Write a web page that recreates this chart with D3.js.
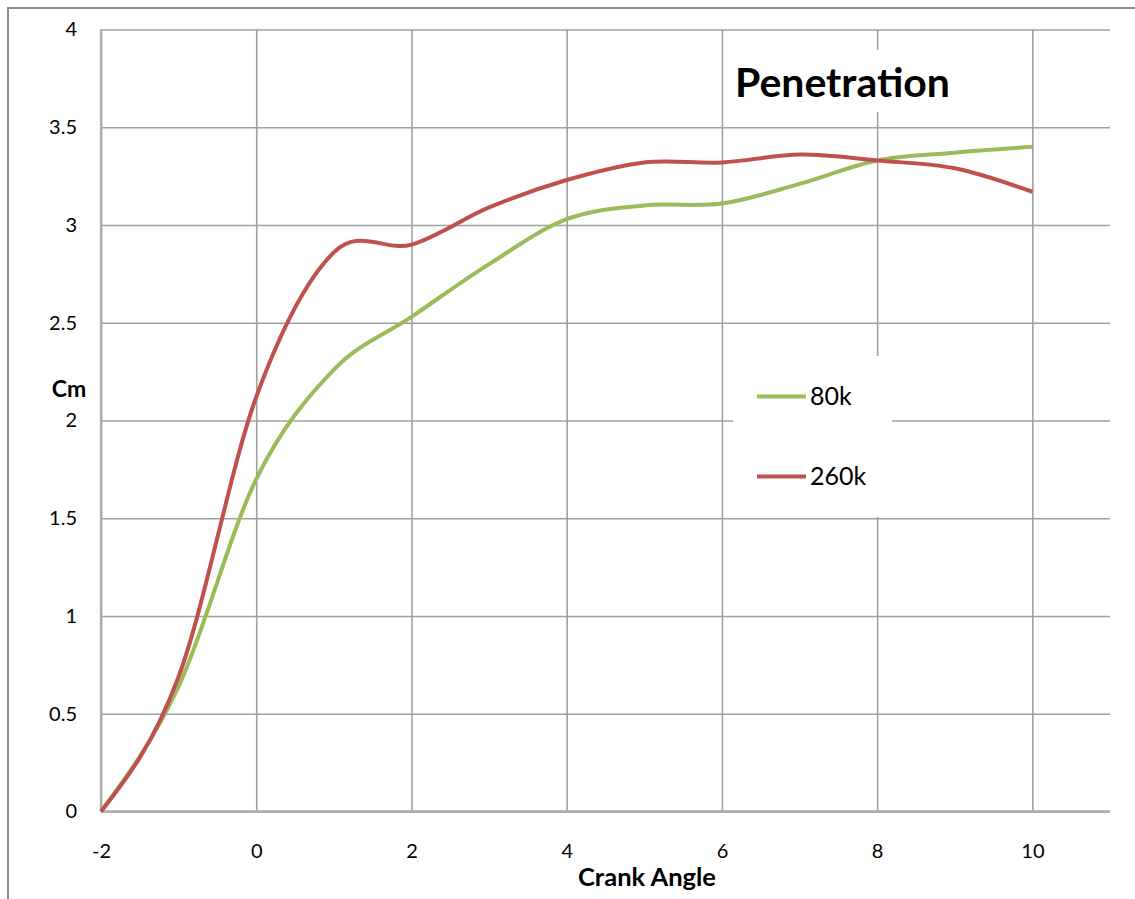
<!DOCTYPE html>
<html>
<head>
<meta charset="utf-8">
<script src="https://cdn.jsdelivr.net/npm/d3@7"></script>
<style>
  html, body { margin: 0; padding: 0; background: #ffffff; }
  svg { display: block; }
  text { font-family: Lato, "Open Sans", sans-serif; fill: #000; }
</style>
</head>
<body>
<svg id="chart" width="1135" height="899"></svg>
<script>
// Crank angle positions (degrees)
const crankAngle = [-2, -1, 0, 1, 2, 3, 4, 5, 6, 7, 8, 9, 10];
// Spray penetration (cm) for each injection pressure
const pen80k  = [0, 0.64, 1.70, 2.26, 2.53, 2.80, 3.03, 3.10, 3.11, 3.21, 3.33, 3.37, 3.40];
const pen260k = [0, 0.69, 2.12, 2.86, 2.90, 3.09, 3.23, 3.32, 3.32, 3.36, 3.33, 3.29, 3.17];
const seriesNames = ["80k", "260k"];
const seriesColors = ["#9BBB59", "#C0504D"];
const xTicks = [-2, 0, 2, 4, 6, 8, 10];
const yTicks = [0, 0.5, 1, 1.5, 2, 2.5, 3, 3.5, 4];

const svg = d3.select("#chart");
const W = 1135, H = 899;
const plot = { left: 101, right: 1110, top: 29.5, bottom: 811.5 };

const x = d3.scaleLinear().domain([-2, 11]).range([plot.left, plot.right]);
const y = d3.scaleLinear().domain([0, 4]).range([plot.bottom, plot.top]);

// Smooth spline curve: central-difference tangents inside,
// natural end tangents at both ends, drawn as cubic Béziers.
function SmoothSpline(context) { this._context = context; }
SmoothSpline.prototype = {
  areaStart() {}, areaEnd() {},
  lineStart() { this._pts = []; },
  point(px, py) { this._pts.push([+px, +py]); },
  lineEnd() {
    const p = this._pts, n = p.length, c = this._context;
    if (!n) return;
    c.moveTo(p[0][0], p[0][1]);
    if (n === 1) return;
    const t = new Array(n);
    for (let i = 1; i < n - 1; i++) {
      t[i] = [(p[i + 1][0] - p[i - 1][0]) / 2, (p[i + 1][1] - p[i - 1][1]) / 2];
    }
    if (n === 2) {
      t[0] = [p[1][0] - p[0][0], p[1][1] - p[0][1]];
      t[1] = t[0];
    } else {
      t[0] = [(3 * (p[1][0] - p[0][0]) - t[1][0]) / 2, (3 * (p[1][1] - p[0][1]) - t[1][1]) / 2];
      const k = n - 1;
      t[k] = [(3 * (p[k][0] - p[k - 1][0]) - t[k - 1][0]) / 2, (3 * (p[k][1] - p[k - 1][1]) - t[k - 1][1]) / 2];
    }
    for (let i = 0; i < n - 1; i++) {
      c.bezierCurveTo(
        p[i][0] + t[i][0] / 3, p[i][1] + t[i][1] / 3,
        p[i + 1][0] - t[i + 1][0] / 3, p[i + 1][1] - t[i + 1][1] / 3,
        p[i + 1][0], p[i + 1][1]);
    }
  }
};
const curveSmooth = context => new SmoothSpline(context);

// background and outer frame
svg.append("rect").attr("width", W).attr("height", H).attr("fill", "#fff");
svg.append("rect")
  .attr("x", 8).attr("y", 8).attr("width", W + 20).attr("height", H + 20)
  .attr("fill", "none").attr("stroke", "#8c8c8c").attr("stroke-width", 2);

const gridColor = "#a0a0a0";

// horizontal gridlines + y labels
const yAxis = svg.append("g")
  .attr("transform", `translate(${plot.left},0)`)
  .call(d3.axisLeft(y).tickValues(yTicks)
    .tickSize(-(plot.right - plot.left)).tickPadding(24)
    .tickFormat(d => String(d)));
yAxis.select(".domain").remove();
yAxis.selectAll("line").attr("stroke", gridColor).attr("stroke-width", 1.6);
yAxis.selectAll("text").attr("font-size", 20).attr("font-family", "Lato, sans-serif")
  .attr("fill", "#000");

// vertical gridlines + x labels
const xAxis = svg.append("g")
  .attr("transform", `translate(0,${plot.bottom})`)
  .call(d3.axisBottom(x).tickValues(xTicks)
    .tickSize(-(plot.bottom - plot.top)).tickPadding(32)
    .tickFormat(d => String(d)));
xAxis.select(".domain").remove();
xAxis.selectAll("line").attr("stroke", gridColor).attr("stroke-width", 1.6);
xAxis.selectAll("text").attr("font-size", 20).attr("font-family", "Lato, sans-serif")
  .attr("fill", "#000");

// axis lines
svg.append("line")
  .attr("x1", plot.left).attr("x2", plot.left)
  .attr("y1", plot.top).attr("y2", plot.bottom)
  .attr("stroke", "#acacac").attr("stroke-width", 2.2);
svg.append("line")
  .attr("x1", plot.left).attr("x2", plot.right)
  .attr("y1", plot.bottom).attr("y2", plot.bottom)
  .attr("stroke", "#acacac").attr("stroke-width", 2.4);

// smoothed series lines
const line = d3.line()
  .x((d, i) => x(crankAngle[i]))
  .y(d => y(d))
  .curve(curveSmooth);

[pen80k, pen260k].forEach((vals, i) => {
  svg.append("path")
    .datum(vals)
    .attr("d", line)
    .attr("fill", "none")
    .attr("stroke", seriesColors[i])
    .attr("stroke-width", 4)
    .attr("stroke-linejoin", "round");
});

// chart title
svg.append("rect").attr("x", 726).attr("y", 50).attr("width", 232).attr("height", 62).attr("fill", "#fff");
svg.append("text")
  .attr("x", 735).attr("y", 97)
  .attr("font-size", 41).attr("font-weight", "bold")
  .text("Penetration");

// axis titles
svg.append("text")
  .attr("x", 69).attr("y", 397).attr("text-anchor", "middle")
  .attr("font-size", 23).attr("font-weight", "bold")
  .text("Cm");
svg.append("text")
  .attr("x", 647).attr("y", 886).attr("text-anchor", "middle")
  .attr("font-size", 25.5).attr("font-weight", "bold")
  .text("Crank Angle");

// legend
const legend = svg.append("g");
legend.append("rect").attr("x", 733).attr("y", 356).attr("width", 159).attr("height", 161).attr("fill", "#fff");
const legendY = [396.5, 476.5];
seriesNames.forEach((name, i) => {
  legend.append("line")
    .attr("x1", 757).attr("x2", 806)
    .attr("y1", legendY[i]).attr("y2", legendY[i])
    .attr("stroke", seriesColors[i]).attr("stroke-width", 4);
  legend.append("text")
    .attr("x", 810).attr("y", legendY[i]).attr("dy", "0.35em")
    .attr("font-size", 25)
    .text(name);
});
</script>
</body>
</html>
